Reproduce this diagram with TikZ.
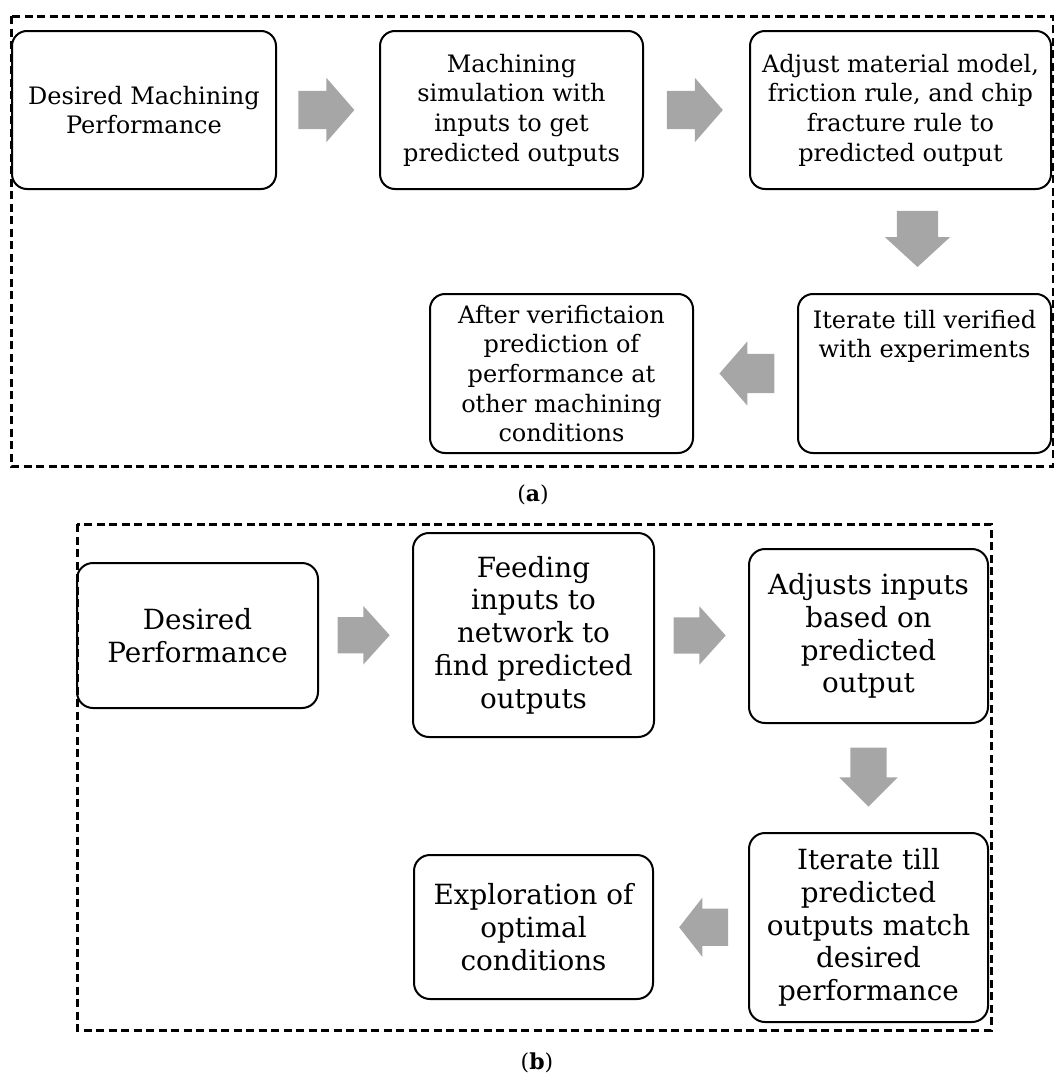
\documentclass[tikz,border=0pt]{standalone}
\usepackage{fontspec}
\setmainfont{DejaVu Serif}
\usetikzlibrary{calc,shapes.arrows}

\begin{document}
\begin{tikzpicture}[x=1pt,y=-1pt,
	stepbox/.style={draw, line width=2pt, rounded corners=15pt, align=center, inner sep=4pt},
	boxa/.style={stepbox, font=\fontsize{24}{29.6}\selectfont},
	boxb/.style={stepbox, rounded corners=16pt, font=\fontsize{27.8}{32.7}\selectfont},
	blockarrow/.style={single arrow, fill=black!35, draw=none, inner xsep=0pt},
	arrowa/.style={blockarrow, minimum height=56pt, inner ysep=19pt, single arrow head extend=13pt, single arrow tip angle=98},
	arrowb/.style={blockarrow, minimum height=52pt, inner ysep=18pt, single arrow head extend=11pt, single arrow tip angle=96},
	panel/.style={draw, line width=3pt, dash pattern=on 8pt off 4.5pt},
	caption/.style={font=\fontsize{22}{26}\selectfont}]
			%%%%% START %%%%%
			
			\useasboundingbox (0,0) rectangle (1054,1076);
			
			% (a)
			\draw[panel] (11,16) rectangle (1053,466);
			
			\node[boxa, minimum width=264pt, minimum height=158pt] (a1) at (144,110) {Desired Machining\\Performance};
			\node[boxa, minimum width=263pt, minimum height=158pt] (a2) at (511.5,110) {Machining\\simulation with\\inputs to get\\predicted outputs};
			\node[boxa, minimum width=301pt, minimum height=158pt] (a3) at (900.5,110) {Adjust material model,\\friction rule, and chip\\fracture rule to\\predicted output};
			\node[boxa, minimum width=253pt, minimum height=159pt] (a4) at (924.5,373.5) {Iterate till verified\\with experiments\\[50pt]\mbox{}};
			\node[boxa, minimum width=263pt, minimum height=159pt] (a5) at (561.5,373.5) {After verifictaion\\prediction of\\performance at\\other machining\\conditions};
			
			\node[arrowa] (p1) at ($(a1.east)!0.5!(a2.west)+(-10,0)$) {};
			\node[arrowa] (p2) at ($(a2.east)!0.5!(a3.west)+(-10,0)$) {};
			\node[arrowa, rotate=-90, inner ysep=20.5pt, single arrow head extend=12pt, single arrow tip angle=95] (p3) at ($(a3.south)!0.5!(a4.north)+(5,-12)$) {};
			\node[arrowa, rotate=180, minimum height=55pt, inner ysep=19.5pt, single arrow head extend=12.5pt] (p4) at ($(a4.west)!0.5!(a5.east)+(10,0)$) {};
			
			\node[caption] (capa) at (533,495) {(\textbf{a})};
			
			% (b)
			\draw[panel] (77,524) rectangle (991,1030);
			
			\node[boxb, minimum width=241pt, minimum height=145pt] (b1) at (197.5,635.5) {Desired\\Performance};
			\node[boxb, minimum width=241pt, minimum height=204pt] (b2) at (533.5,635) {Feeding\\inputs to\\network to\\find predicted\\outputs};
			\node[boxb, minimum width=239pt, minimum height=174pt] (b3) at (868.5,636) {Adjusts inputs\\based on\\predicted\\output};
			\node[boxb, minimum width=239pt, minimum height=189pt] (b4) at (868.5,927.5) {Iterate till\\predicted\\outputs match\\desired\\performance};
			\node[boxb, minimum width=239pt, minimum height=144pt] (b5) at (533.5,927) {Exploration of\\optimal\\conditions};
			
			\node[arrowb] (q1) at ($(b1.east)!0.5!(b2.west)+(-10,0)$) {};
			\node[arrowb] (q2) at ($(b2.east)!0.5!(b3.west)+(-10,0)$) {};
			\node[arrowb, rotate=-90, minimum height=59pt, single arrow tip angle=90] (q3) at ($(b3.south)!0.5!(b4.north)+(0,-10)$) {};
			\node[arrowb, rotate=180, minimum height=49pt, inner ysep=18.5pt, single arrow tip angle=104] (q4) at ($(b4.west)!0.5!(b5.east)+(10,0)$) {};
			
			\node[caption] (capb) at (537,1063) {(\textbf{b})};
			
			%%%%% END %%%%%
\end{tikzpicture}
\end{document}
